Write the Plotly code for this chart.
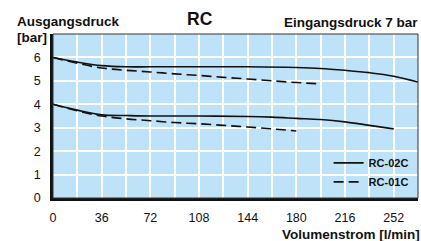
import plotly.graph_objects as go

# Data
x_02_hi = [0, 18, 36, 54, 72, 108, 144, 180, 198, 216, 234, 252, 270]
y_02_hi = [6.0, 5.8, 5.65, 5.6, 5.6, 5.6, 5.6, 5.57, 5.53, 5.45, 5.35, 5.2, 4.95]
x_01_hi = [0, 18, 36, 54, 72, 90, 108, 126, 144, 162, 180, 198]
y_01_hi = [6.0, 5.75, 5.55, 5.45, 5.38, 5.3, 5.23, 5.15, 5.08, 5.0, 4.93, 4.87]
x_02_lo = [0, 18, 36, 54, 72, 108, 144, 162, 180, 198, 216, 234, 252]
y_02_lo = [4.0, 3.75, 3.55, 3.52, 3.5, 3.5, 3.48, 3.45, 3.4, 3.35, 3.25, 3.1, 2.95]
x_01_lo = [0, 18, 36, 54, 72, 90, 108, 126, 144, 162, 180]
y_01_lo = [4.0, 3.72, 3.5, 3.38, 3.3, 3.22, 3.17, 3.1, 3.03, 2.95, 2.86]
x_ticks = [0, 36, 72, 108, 144, 180, 216, 252]
y_ticks = [0, 1, 2, 3, 4, 5, 6]

FONT = "Liberation Sans, Arial, sans-serif"
fig = go.Figure()
solid = dict(color="#111111", width=1.6)
dashed = dict(color="#111111", width=1.6, dash="10px,5px")
fig.add_trace(go.Scatter(x=x_02_hi, y=y_02_hi, mode="lines", line=solid, name="RC-02C", legendgroup="a", line_shape="spline"))
fig.add_trace(go.Scatter(x=x_02_lo, y=y_02_lo, mode="lines", line=solid, name="RC-02C", legendgroup="a", showlegend=False, line_shape="spline"))
fig.add_trace(go.Scatter(x=x_01_hi, y=y_01_hi, mode="lines", line=dashed, name="RC-01C", legendgroup="b", line_shape="spline"))
fig.add_trace(go.Scatter(x=x_01_lo, y=y_01_lo, mode="lines", line=dashed, name="RC-01C", legendgroup="b", showlegend=False, line_shape="spline"))

W, H, L, R, T, B = 421, 241, 53, 3, 34, 43
pw, ph = W - L - R, H - T - B

def px_to_paper(px, py):
    return (px - L) / pw, (H - B - py) / ph

ann_specs = [
    ("<b>Ausgangsdruck</b>", 16, 22, "left", 13.5),
    ("<b>RC</b>", 200, 19, "center", 17.5),
    ("<b>Eingangsdruck 7 bar</b>", 419, 23, "right", 13.5),
    ("<b>[bar]</b>", 16, 37, "left", 13.5),
    ("<b>Volumenstrom [l/min]</b>", 421, 234, "right", 13.5),
]
annotations = []
for text, px, py, al, fs in ann_specs:
    ax, ay = px_to_paper(px, py)
    annotations.append(dict(text=text, x=ax, y=ay, xref="paper", yref="paper", showarrow=False,
                            xanchor=al, yanchor="middle", borderpad=0,
                            font=dict(size=fs, family=FONT, color="#111111")))

fig.update_layout(
    width=W, height=H,
    margin=dict(l=L, r=R, t=T, b=B),
    paper_bgcolor="white", plot_bgcolor="#bee3f8",
    font=dict(family=FONT, size=13, color="#111111"),
    showlegend=True,
    legend=dict(x=0.988, y=0.01, xanchor="right", yanchor="bottom", bgcolor="rgba(0,0,0,0)",
                font=dict(size=11, family=FONT, weight="bold"), itemwidth=30, tracegroupgap=0),
    xaxis=dict(range=[0, 270], tickvals=x_ticks, showgrid=True, gridcolor="white", gridwidth=1.5,
               minor=dict(dtick=18, showgrid=True, gridcolor="white", gridwidth=1.5, tick0=0),
               showline=True, linecolor="#111111", linewidth=2.5, ticks="", ticklen=0,
               tickfont=dict(size=12.5), zeroline=False, ticklabelstandoff=6),
    yaxis=dict(range=[0, 7], tickvals=y_ticks, showgrid=True, gridcolor="white", gridwidth=1.5,
               showline=True, linecolor="#111111", linewidth=2.5, ticks="",
               tickfont=dict(size=12.5), zeroline=False, ticklabelstandoff=7),
    shapes=[dict(type="rect", xref="paper", yref="paper", x0=0, y0=0, x1=1, y1=1,
                 line=dict(color="#333333", width=1), layer="above")],
    annotations=annotations,
)
fig.write_html("out.html", config={"displayModeBar": False},
               post_script="document.body.style.margin='0';document.body.style.overflow='hidden';")
